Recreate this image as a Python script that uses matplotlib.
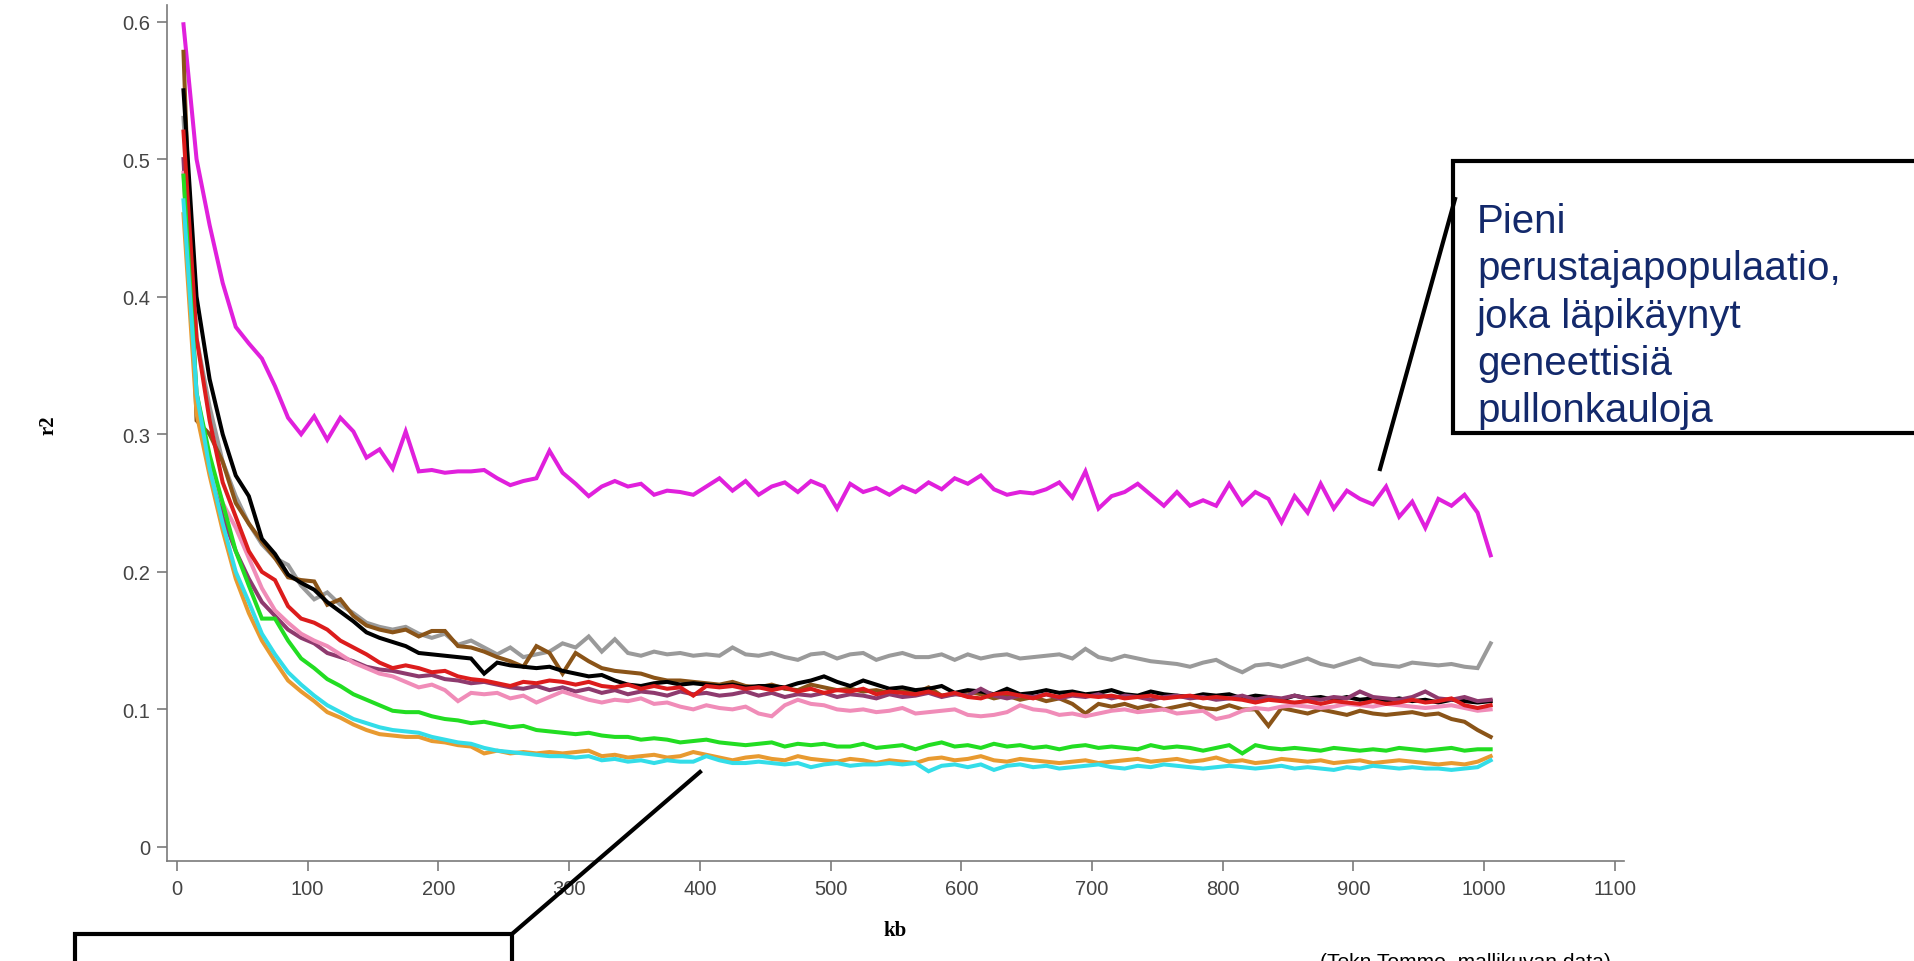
import matplotlib
matplotlib.use("Agg")
import matplotlib.pyplot as plt
import numpy as np
from matplotlib.patches import Rectangle
from matplotlib.lines import Line2D

# kb sampling grid (every 10 kb)
kb = np.arange(5, 1006, 10)

magenta = [0.598, 0.500, 0.452, 0.410, 0.378, 0.366, 0.355, 0.335, 0.312, 0.300,
           0.313, 0.296, 0.312, 0.302, 0.283, 0.289, 0.275, 0.302, 0.273, 0.274,
           0.272, 0.273, 0.273, 0.274, 0.268, 0.263, 0.266, 0.268, 0.288, 0.272,
           0.264, 0.255, 0.262, 0.266, 0.262, 0.264, 0.256, 0.259, 0.258, 0.256,
           0.262, 0.268, 0.259, 0.266, 0.256, 0.262, 0.265, 0.258, 0.266, 0.262,
           0.246, 0.264, 0.258, 0.261, 0.256, 0.262, 0.258, 0.265, 0.260, 0.268,
           0.264, 0.270, 0.260, 0.256, 0.258, 0.257, 0.260, 0.265, 0.254, 0.273,
           0.246, 0.255, 0.258, 0.264, 0.256, 0.248, 0.258, 0.248, 0.252, 0.248,
           0.264, 0.249, 0.258, 0.253, 0.236, 0.255, 0.243, 0.264, 0.246, 0.259,
           0.253, 0.249, 0.262, 0.240, 0.251, 0.232, 0.253, 0.248, 0.256, 0.243,
           0.212]

gray = [0.530, 0.370, 0.320, 0.280, 0.255, 0.235, 0.220, 0.210, 0.205, 0.190,
        0.180, 0.185, 0.176, 0.170, 0.163, 0.160, 0.158, 0.160, 0.155, 0.152,
        0.155, 0.147, 0.150, 0.145, 0.140, 0.145, 0.138, 0.140, 0.142, 0.148,
        0.145, 0.153, 0.142, 0.151, 0.141, 0.139, 0.142, 0.140, 0.141, 0.139,
        0.140, 0.139, 0.145, 0.140, 0.139, 0.141, 0.138, 0.136, 0.140, 0.141,
        0.137, 0.140, 0.141, 0.136, 0.139, 0.141, 0.138, 0.138, 0.140, 0.136,
        0.140, 0.137, 0.139, 0.140, 0.137, 0.138, 0.139, 0.140, 0.137, 0.144,
        0.138, 0.136, 0.139, 0.137, 0.135, 0.134, 0.133, 0.131, 0.134, 0.136,
        0.131, 0.127, 0.132, 0.133, 0.131, 0.134, 0.137, 0.133, 0.131, 0.134,
        0.137, 0.133, 0.132, 0.131, 0.134, 0.133, 0.132, 0.133, 0.131, 0.130,
        0.148]

brown = [0.578, 0.310, 0.300, 0.280, 0.250, 0.235, 0.222, 0.210, 0.196, 0.194,
         0.193, 0.176, 0.180, 0.168, 0.161, 0.158, 0.156, 0.158, 0.153, 0.157,
         0.157, 0.146, 0.145, 0.142, 0.138, 0.135, 0.131, 0.146, 0.141, 0.126,
         0.141, 0.135, 0.130, 0.128, 0.127, 0.126, 0.123, 0.121, 0.121, 0.120,
         0.119, 0.118, 0.120, 0.117, 0.116, 0.118, 0.115, 0.114, 0.118, 0.116,
         0.114, 0.115, 0.113, 0.114, 0.112, 0.113, 0.112, 0.116, 0.110, 0.111,
         0.113, 0.111, 0.108, 0.110, 0.107, 0.109, 0.106, 0.108, 0.104, 0.097,
         0.104, 0.102, 0.104, 0.101, 0.103, 0.100, 0.102, 0.104, 0.101, 0.100,
         0.103, 0.100, 0.100, 0.088, 0.101, 0.099, 0.097, 0.100, 0.098, 0.096,
         0.099, 0.097, 0.096, 0.097, 0.098, 0.096, 0.097, 0.093, 0.091, 0.085,
         0.080]

black = [0.550, 0.400, 0.340, 0.300, 0.270, 0.255, 0.224, 0.213, 0.198, 0.192,
         0.187, 0.178, 0.171, 0.164, 0.156, 0.152, 0.149, 0.146, 0.141, 0.140,
         0.139, 0.138, 0.137, 0.126, 0.134, 0.132, 0.131, 0.130, 0.131, 0.128,
         0.126, 0.124, 0.125, 0.121, 0.118, 0.117, 0.119, 0.120, 0.118, 0.119,
         0.118, 0.117, 0.118, 0.116, 0.117, 0.117, 0.116, 0.119, 0.121, 0.124,
         0.120, 0.117, 0.121, 0.118, 0.115, 0.116, 0.114, 0.115, 0.117, 0.112,
         0.114, 0.113, 0.111, 0.115, 0.111, 0.112, 0.114, 0.112, 0.113, 0.111,
         0.112, 0.114, 0.111, 0.110, 0.113, 0.111, 0.110, 0.109, 0.111, 0.110,
         0.111, 0.108, 0.110, 0.109, 0.107, 0.110, 0.108, 0.109, 0.107, 0.109,
         0.107, 0.108, 0.106, 0.108, 0.106, 0.107, 0.105, 0.107, 0.106, 0.105,
         0.106]

purple = [0.500, 0.320, 0.280, 0.240, 0.215, 0.195, 0.178, 0.168, 0.158, 0.152,
          0.148, 0.141, 0.138, 0.135, 0.131, 0.129, 0.128, 0.126, 0.124, 0.125,
          0.122, 0.121, 0.119, 0.120, 0.118, 0.116, 0.115, 0.117, 0.114, 0.116,
          0.113, 0.115, 0.112, 0.114, 0.111, 0.113, 0.112, 0.110, 0.113, 0.111,
          0.112, 0.110, 0.111, 0.113, 0.110, 0.112, 0.109, 0.111, 0.110, 0.112,
          0.109, 0.111, 0.110, 0.108, 0.111, 0.109, 0.110, 0.112, 0.109, 0.111,
          0.110, 0.115, 0.110, 0.108, 0.110, 0.109, 0.111, 0.108, 0.110, 0.109,
          0.111, 0.108, 0.110, 0.109, 0.107, 0.109, 0.110, 0.108, 0.109, 0.107,
          0.108, 0.110, 0.107, 0.109, 0.108, 0.110, 0.108, 0.107, 0.109, 0.108,
          0.113, 0.109, 0.108, 0.107, 0.109, 0.113, 0.108, 0.107, 0.109, 0.106,
          0.107]

pink = [0.490, 0.330, 0.280, 0.250, 0.232, 0.210, 0.188, 0.172, 0.163, 0.155,
        0.150, 0.146, 0.140, 0.134, 0.130, 0.126, 0.124, 0.120, 0.116, 0.118,
        0.114, 0.106, 0.112, 0.111, 0.112, 0.108, 0.110, 0.105, 0.109, 0.113,
        0.110, 0.107, 0.105, 0.107, 0.106, 0.108, 0.104, 0.105, 0.102, 0.100,
        0.103, 0.101, 0.100, 0.102, 0.097, 0.095, 0.103, 0.107, 0.104, 0.103,
        0.100, 0.099, 0.100, 0.098, 0.099, 0.101, 0.097, 0.098, 0.099, 0.100,
        0.096, 0.095, 0.096, 0.098, 0.103, 0.100, 0.099, 0.096, 0.097, 0.095,
        0.097, 0.099, 0.100, 0.098, 0.099, 0.100, 0.097, 0.098, 0.099, 0.093,
        0.095, 0.099, 0.101, 0.100, 0.102, 0.103, 0.102, 0.101, 0.102, 0.104,
        0.103, 0.102, 0.104, 0.103, 0.102, 0.101, 0.102, 0.103, 0.101, 0.099,
        0.100]

red = [0.520, 0.370, 0.310, 0.265, 0.240, 0.215, 0.200, 0.194, 0.175, 0.166,
       0.163, 0.158, 0.150, 0.145, 0.140, 0.134, 0.130, 0.132, 0.130, 0.127,
       0.128, 0.124, 0.122, 0.121, 0.119, 0.117, 0.120, 0.119, 0.121, 0.120,
       0.118, 0.120, 0.117, 0.116, 0.118, 0.115, 0.117, 0.115, 0.116, 0.110,
       0.117, 0.116, 0.117, 0.115, 0.116, 0.114, 0.116, 0.113, 0.115, 0.112,
       0.114, 0.113, 0.115, 0.111, 0.113, 0.112, 0.111, 0.113, 0.110, 0.112,
       0.109, 0.108, 0.111, 0.112, 0.110, 0.108, 0.111, 0.109, 0.111, 0.110,
       0.109, 0.110, 0.108, 0.109, 0.110, 0.108, 0.109, 0.110, 0.108, 0.109,
       0.108, 0.107, 0.105, 0.107, 0.106, 0.105, 0.106, 0.104, 0.106, 0.105,
       0.104, 0.106, 0.104, 0.105, 0.107, 0.105, 0.106, 0.108, 0.103, 0.101,
       0.103]

green = [0.488, 0.330, 0.285, 0.250, 0.215, 0.190, 0.166, 0.166, 0.150, 0.137,
         0.130, 0.122, 0.117, 0.111, 0.107, 0.103, 0.099, 0.098, 0.098, 0.095,
         0.093, 0.092, 0.090, 0.091, 0.089, 0.087, 0.088, 0.085, 0.084, 0.083,
         0.082, 0.083, 0.081, 0.080, 0.080, 0.078, 0.079, 0.078, 0.076, 0.077,
         0.078, 0.076, 0.075, 0.074, 0.075, 0.076, 0.073, 0.075, 0.074, 0.075,
         0.073, 0.073, 0.075, 0.072, 0.073, 0.074, 0.071, 0.074, 0.076, 0.073,
         0.074, 0.072, 0.075, 0.073, 0.074, 0.072, 0.073, 0.071, 0.073, 0.074,
         0.072, 0.073, 0.072, 0.071, 0.074, 0.072, 0.073, 0.072, 0.070, 0.072,
         0.074, 0.068, 0.074, 0.072, 0.071, 0.072, 0.071, 0.070, 0.072, 0.071,
         0.070, 0.071, 0.070, 0.072, 0.071, 0.070, 0.071, 0.072, 0.070, 0.071,
         0.071]

orange = [0.460, 0.315, 0.270, 0.230, 0.195, 0.170, 0.150, 0.135, 0.121, 0.113,
          0.106, 0.098, 0.094, 0.089, 0.085, 0.082, 0.081, 0.080, 0.080, 0.077,
          0.076, 0.074, 0.073, 0.068, 0.070, 0.068, 0.069, 0.068, 0.069, 0.068,
          0.069, 0.070, 0.066, 0.067, 0.065, 0.066, 0.067, 0.065, 0.066, 0.069,
          0.067, 0.065, 0.063, 0.065, 0.066, 0.064, 0.063, 0.066, 0.064, 0.063,
          0.062, 0.064, 0.063, 0.061, 0.063, 0.062, 0.061, 0.064, 0.065, 0.063,
          0.064, 0.066, 0.063, 0.062, 0.064, 0.063, 0.062, 0.061, 0.062, 0.063,
          0.061, 0.062, 0.063, 0.064, 0.062, 0.063, 0.064, 0.062, 0.063, 0.065,
          0.062, 0.063, 0.061, 0.062, 0.064, 0.063, 0.062, 0.063, 0.061, 0.062,
          0.063, 0.061, 0.062, 0.063, 0.062, 0.061, 0.060, 0.061, 0.060, 0.062,
          0.066]

cyan = [0.470, 0.330, 0.275, 0.235, 0.200, 0.178, 0.155, 0.140, 0.127, 0.118,
        0.110, 0.103, 0.098, 0.093, 0.090, 0.087, 0.085, 0.084, 0.083, 0.080,
        0.078, 0.076, 0.075, 0.072, 0.070, 0.069, 0.068, 0.067, 0.066, 0.066,
        0.065, 0.066, 0.063, 0.064, 0.062, 0.063, 0.061, 0.063, 0.062, 0.062,
        0.066, 0.063, 0.061, 0.061, 0.062, 0.061, 0.060, 0.061, 0.058, 0.060,
        0.061, 0.059, 0.060, 0.060, 0.061, 0.060, 0.061, 0.055, 0.059, 0.060,
        0.058, 0.060, 0.056, 0.059, 0.060, 0.058, 0.059, 0.057, 0.058, 0.059,
        0.060, 0.058, 0.057, 0.059, 0.058, 0.060, 0.059, 0.058, 0.057, 0.058,
        0.059, 0.058, 0.057, 0.058, 0.059, 0.057, 0.058, 0.057, 0.056, 0.058,
        0.057, 0.059, 0.058, 0.057, 0.058, 0.057, 0.057, 0.056, 0.057, 0.058,
        0.063]

series = [
    (magenta, '#e020dc'),
    (gray, '#9a9a9a'),
    (brown, '#8a5418'),
    (black, '#000000'),
    (purple, '#8e3a6e'),
    (pink, '#f08cb8'),
    (red, '#dc1c1c'),
    (green, '#22dd22'),
    (orange, '#e89a30'),
    (cyan, '#33dde8'),
]

W, H = 1915, 962


def fx(px):
    return px / W


def fy(py):
    return 1 - py / H


fig = plt.figure(figsize=(W / 100, H / 100), dpi=100)
ax = fig.add_axes([fx(167), fy(862), fx(1624) - fx(167), fy(6) - fy(862)])

for vals, col in series:
    ax.plot(kb, vals, color=col, lw=2.9, solid_joinstyle='miter')

ax.set_xlim(-7.6, 1107)
ax.set_ylim(-0.0102, 0.612)
ax.set_xticks(np.arange(0, 1101, 100))
ax.set_yticks([0, 0.1, 0.2, 0.3, 0.4, 0.5, 0.6])
ax.set_yticklabels(['0', '0.1', '0.2', '0.3', '0.4', '0.5', '0.6'])
for s in ['top', 'right']:
    ax.spines[s].set_visible(False)
for s in ['left', 'bottom']:
    ax.spines[s].set_color('#7a7a7a')
    ax.spines[s].set_linewidth(1.2)
ax.tick_params(direction='out', length=7, width=1.2, color='#7a7a7a',
               labelcolor='#444444', labelsize=14.5)
ax.tick_params(axis='x', pad=6)
ax.tick_params(axis='y', pad=5)
for lab in ax.get_xticklabels() + ax.get_yticklabels():
    lab.set_family('Liberation Sans')

fig.text(fx(49), fy(425), 'r2', rotation=90, ha='center', va='center',
         family='Liberation Serif', fontweight='bold', fontsize=15)
fig.text(fx(895), fy(931), 'kb', ha='center', va='center',
         family='Liberation Serif', fontweight='bold', fontsize=15)

# right callout box
fig.patches.append(Rectangle((fx(1453), fy(434)), fx(1990) - fx(1453), fy(162) - fy(434),
                             transform=fig.transFigure, fill=True, facecolor='white',
                             edgecolor='black', lw=3, clip_on=False))
fig.lines.append(Line2D([fx(1455), fx(1380)], [fy(200), fy(470)],
                        transform=fig.transFigure, color='black', lw=3))
fig.text(fx(1477), fy(203), 'Pieni\nperustajapopulaatio,\njoka läpikäynyt\ngeneettisiä\npullonkauloja',
         ha='left', va='top', family='Liberation Sans', fontsize=29,
         color='#13296b', linespacing=1.31)

# lower left callout box (cut off at the bottom)
fig.patches.append(Rectangle((fx(75), fy(1000)), fx(512) - fx(75), fy(935) - fy(1000),
                             transform=fig.transFigure, fill=True, facecolor='white',
                             edgecolor='black', lw=3, clip_on=False))
fig.lines.append(Line2D([fx(512), fx(700)], [fy(935), fy(773)],
                        transform=fig.transFigure, color='black', lw=3))

# source note, only its top shows above the bottom edge
note = fig.text(fx(1320), fy(953), '(Tekn Tommo, mallikuvan data)', ha='left', va='top',
                family='Liberation Sans', fontsize=17, color='black')
fig.canvas.draw()
wpx = note.get_window_extent().width
note.set_fontsize(17 * 292 / wpx)

fig.savefig('out.png', dpi=100)
